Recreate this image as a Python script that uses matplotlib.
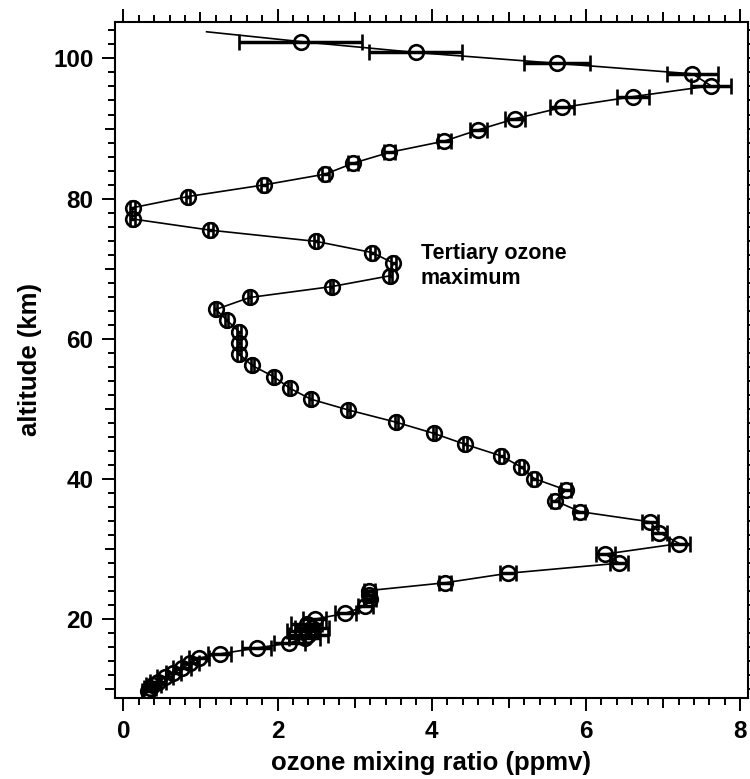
import numpy as np
import matplotlib
matplotlib.use("Agg")
import matplotlib.pyplot as plt
from matplotlib.ticker import FixedLocator

# ozone profile, top to bottom along the drawn line
ozone = [2.30, 3.79, 5.62, 7.38, 7.62, 6.61, 5.69, 5.08, 4.60, 4.16,
         3.45, 2.98, 2.62, 1.82, 0.84, 0.12, 0.12, 1.13, 2.50, 3.23,
         3.50, 3.46, 2.70, 1.64, 1.20, 1.34, 1.50, 1.50, 1.50, 1.67,
         1.95, 2.16, 2.43, 2.92, 3.54, 4.03, 4.43, 4.90, 5.16, 5.33,
         5.74, 5.60, 5.92, 6.83, 6.95, 7.21, 6.25, 6.43, 4.99, 4.17,
         3.19, 3.19, 3.20, 3.14, 2.88, 2.48, 2.38, 2.45, 2.32, 2.40,
         2.35, 2.15, 1.73, 1.25, 0.98, 0.865, 0.76, 0.65, 0.54, 0.45,
         0.39, 0.35, 0.32]
altitude = [102.4, 100.85, 99.3, 97.8, 96.1, 94.55, 93.0, 91.4, 89.8, 88.2,
            86.6, 85.05, 83.5, 81.95, 80.3, 78.7, 77.1, 75.5, 73.9, 72.3,
            70.8, 69.0, 67.45, 65.9, 64.2, 62.7, 61.0, 59.45, 57.85, 56.2,
            54.6, 52.95, 51.4, 49.85, 48.1, 46.5, 44.96, 43.3, 41.7, 40.06,
            38.44, 36.9, 35.35, 33.9, 32.35, 30.8, 29.3, 28.0, 26.56, 25.2,
            24.1, 23.5, 22.9, 21.9, 20.85, 20.0, 19.3, 18.8, 18.3, 17.8,
            17.3, 16.6, 15.9, 15.05, 14.45, 13.7, 13.0, 12.3, 11.7, 11.1,
            10.6, 10.15, 9.8]
ozone_err = [0.80, 0.60, 0.43, 0.33, 0.26, 0.21, 0.16, 0.13, 0.11, 0.085,
             0.07, 0.06, 0.05, 0.04, 0.03, 0.03, 0.03, 0.03, 0.03, 0.03,
             0.03, 0.02, 0.02, 0.02, 0.02, 0.02, 0.02, 0.02, 0.02, 0.02,
             0.02, 0.02, 0.02, 0.02, 0.02, 0.02, 0.025, 0.03, 0.03, 0.04,
             0.06, 0.05, 0.07, 0.10, 0.10, 0.14, 0.12, 0.12, 0.10, 0.08,
             0.07, 0.07, 0.08, 0.10, 0.14, 0.15, 0.20, 0.22, 0.20, 0.25,
             0.20, 0.20, 0.19, 0.15, 0.13, 0.12, 0.12, 0.10, 0.10, 0.10,
             0.10, 0.08, 0.08]
# the line starts above the highest measured point
line_top = (1.08, 103.8)

plt.rcParams["font.family"] = ["Liberation Sans", "DejaVu Sans"]
plt.rcParams["font.weight"] = "bold"

fig = plt.figure(figsize=(7.5, 7.79), dpi=100)
ax = fig.add_axes([0.1533, 0.104, 0.844, 0.8678])

ax.plot([line_top[0]] + ozone, [line_top[1]] + altitude, color="black", lw=1.2, zorder=2)
ax.errorbar(ozone, altitude, xerr=ozone_err, fmt="o", ms=10.5, mfc="none", mec="black",
            mew=1.9, ecolor="black", elinewidth=2.5, capsize=5.8, capthick=2.5, zorder=3)

ax.text(3.86, 70.4, "Tertiary ozone\nmaximum", fontsize=15.5, fontweight="bold",
        ha="left", va="center", linespacing=1.2)

ax.set_xlim(-0.108, 8.10)
ax.set_ylim(8.77, 105.2)

# major ticks every 1 / 10 so odd ones can be drawn shorter and left unlabeled
xt = np.arange(0, 9, 1)
yt = np.arange(10, 110, 10)
ax.xaxis.set_major_locator(FixedLocator(xt))
ax.yaxis.set_major_locator(FixedLocator(yt))
ax.xaxis.set_minor_locator(FixedLocator(np.arange(0, 8.2, 0.2)))
ax.yaxis.set_minor_locator(FixedLocator(np.arange(10, 106, 2)))
ax.set_xticklabels([str(v) if v % 2 == 0 else "" for v in xt])
ax.set_yticklabels([str(v) if v % 20 == 0 else "" for v in yt])

ax.tick_params(which="both", direction="out", top=True, right=True, width=1.4, color="black")
ax.tick_params(which="major", length=9.5, labelsize=17.5, pad=6)
ax.tick_params(which="minor", length=5)
for t, v in zip(ax.xaxis.get_major_ticks(), xt):
    if v % 2:
        t.tick1line.set_markersize(7.2)
        t.tick2line.set_markersize(7.2)
for t, v in zip(ax.yaxis.get_major_ticks(), yt):
    if v % 20:
        t.tick1line.set_markersize(7.2)
        t.tick2line.set_markersize(7.2)
for lab in ax.get_xticklabels() + ax.get_yticklabels():
    lab.set_fontweight("bold")

for s in ax.spines.values():
    s.set_linewidth(1.5)

ax.set_xlabel("ozone mixing ratio (ppmv)", fontsize=18.5, fontweight="bold", labelpad=6)
ax.set_ylabel("altitude (km)", fontsize=18.5, fontweight="bold", labelpad=8)

fig.savefig("out.png", dpi=100)
